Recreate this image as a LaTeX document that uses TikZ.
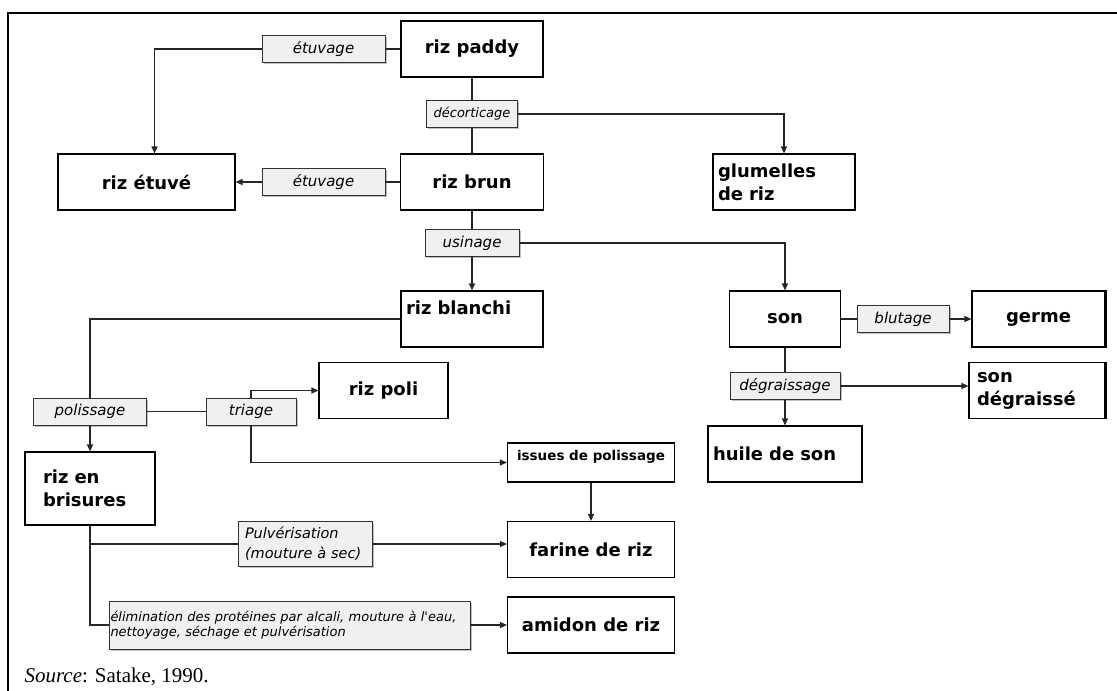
\documentclass[tikz,border=0pt]{standalone}
\usepackage{fontspec}
\setmainfont{DejaVu Sans}
\newfontfamily\srcfont{Liberation Serif}
\usetikzlibrary{graphs,arrows.meta,shapes,shadows}

\begin{document}
\begin{tikzpicture}[x=1pt,y=-1pt,
		produit/.style = {
			rectangle,draw=black,line width=1.1pt,fill=white,
			inner sep=5pt,minimum height=56pt,
			font=\fontsize{18}{23}\selectfont\bfseries
		},
		operation/.style = {
			rectangle,draw=black!80,line width=.8pt,fill=black!6,
			inner sep=2pt,minimum height=27pt,
			drop shadow={shadow xshift=1.5pt,shadow yshift=-1.5pt,opacity=.5},
			font=\fontsize{15}{18}\selectfont\itshape
		},
		>={Triangle[length=7pt,width=6pt]},line width=1.1pt,black!85,text=black]
	\useasboundingbox (0,0) rectangle (1117,691);
	\draw[line width=2pt,black] (8,691) |- (1117,13);
	% produits
	\node [produit,minimum width=142pt]	(paddy)		at (472,49)		{riz paddy};
	\node [produit,minimum width=177pt]	(etuve)		at (146.5,182)	{riz étuvé};
	\node [produit,minimum width=143pt]	(brun)		at (472,182)	{riz brun};
	\node [produit,text width=132pt,align=left]	(glumelles)	at (784,182)	{glumelles\\de riz};
	\node [produit,text width=132pt,align=left]	(blanchi)	at (472,319)	{riz blanchi\\\mbox{}};
	\node [produit,minimum width=111pt]	(son)		at (785,319)	{son};
	\node [produit,minimum width=133pt]	(germe)		at (1038.5,319)	{germe};
	\node [produit,inner xsep=8pt,text width=120pt,align=left]	(sondeg)	at (1037,390.5)	{son\\dégraissé};
	\node [produit,text width=144pt,align=left]	(huile)		at (785,454)	{huile de son};
	\node [produit,minimum width=129pt]	(poli)		at (383.5,390.5){riz poli};
	\node [produit,minimum width=167pt,minimum height=39pt,align=center,
		font=\fontsize{13.5}{15}\selectfont\bfseries]	(issues)	at (591,462.5)	{issues de polissage\\\mbox{}};
	\node [produit,inner xsep=18pt,text width=94pt,align=left,minimum height=73pt]	(brisures)	at (90,488.5)	{riz en\\brisures};
	\node [produit,minimum width=167pt]	(farine)	at (591,549.5)	{farine de riz};
	\node [produit,minimum width=167pt]	(amidon)	at (591,625)	{amidon de riz};
	% operations
	\node [operation,minimum width=123pt]	(etuvA)		at (323.5,49)	{étuvage};
	\node [operation,minimum width=91pt,font=\fontsize{13}{16}\selectfont\itshape]	(decort)	at (472,114)	{décorticage};
	\node [operation,minimum width=123pt]	(etuvB)		at (323.5,182)	{étuvage};
	\node [operation,minimum width=94pt]	(usin)		at (472,243)	{usinage};
	\node [operation,minimum width=92pt]	(blut)		at (903,319)	{blutage};
	\node [operation,minimum width=110pt]	(degr)		at (785,386)	{dégraissage};
	\node [operation,minimum width=113pt]	(poliss)	at (90,411.5)	{polissage};
	\node [operation,minimum width=90pt]	(triage)	at (251,411.5)	{triage};
	\node [operation,inner xsep=7pt,text width=120pt,align=left,minimum height=45pt,
		font=\fontsize{14.5}{20}\selectfont\itshape]	(pulv)	at (305,544)	{Pulvérisation\\(mouture à sec)};
	\node [operation,inner xsep=1.5pt,text width=358pt,align=left,minimum height=48pt,
		font=\fontsize{13}{15.5}\selectfont\itshape]	(elim)	at (289.5,625)	{élimination des protéines par alcali, mouture à l\textquotesingle eau,\\nettoyage, séchage et pulvérisation};
	% bords epais
	\draw[line width=3pt,black] (germe.north east) -- (germe.south east);
	\draw[line width=3pt,black] (sondeg.north east) -- (sondeg.south east);
	\graph[use existing nodes]{
		paddy -- decort -- brun -- usin -> blanchi;
		paddy -- etuvA; brun -- etuvB -> etuve;
		son -- blut -> germe; son -- degr -> huile;
		poliss -- triage; poliss -> brisures;
		issues -> farine; elim -> amidon;
	};
	\draw[->] (etuvA.west) -| ([xshift=8pt]etuve.north);
	\draw[->] (decort.east) -| (glumelles.north);
	\draw[->] (usin.east) -| (son.north);
	\draw (blanchi.west) -| (poliss.north);
	\draw[->] (triage.north) |- (poli.west);
	\draw[->] (triage.south) |- (issues.west);
	\draw[->] (degr.east) -- (degr.east -| sondeg.west);
	\draw (brisures.south) |- (pulv.west);
	\draw (brisures.south) |- (elim.west);
	\draw[->] (pulv.east) -- (pulv.east -| farine.west);
	\node [anchor=west,inner sep=0pt,font=\srcfont\fontsize{21}{25}\selectfont] (source) at (24,677) {\textit{Source}: Satake, 1990.};
\end{tikzpicture}
\end{document}
